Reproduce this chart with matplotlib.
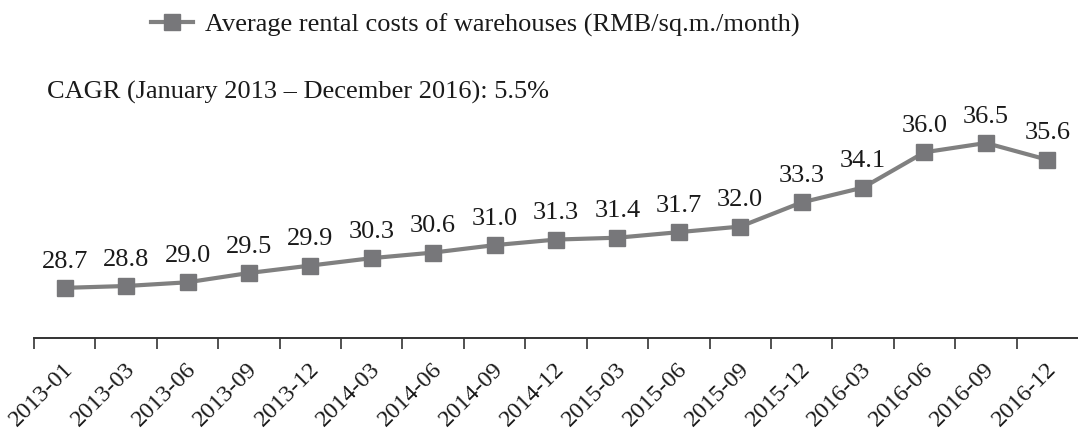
import matplotlib.pyplot as plt
import matplotlib.transforms as mtransforms
from matplotlib.lines import Line2D

plt.rcParams["font.family"] = ["Liberation Serif", "DejaVu Serif"]

months = ["2013-01", "2013-03", "2013-06", "2013-09", "2013-12", "2014-03",
          "2014-06", "2014-09", "2014-12", "2015-03", "2015-06", "2015-09",
          "2015-12", "2016-03", "2016-06", "2016-09", "2016-12"]
rent = [28.7, 28.8, 29.0, 29.5, 29.9, 30.3, 30.6, 31.0, 31.3, 31.4, 31.7,
        32.0, 33.3, 34.1, 36.0, 36.5, 35.6]

legend_label = "Average rental costs of warehouses (RMB/sq.m./month)"
note = "CAGR (January 2013 \u2013 December 2016): 5.5%"

color = "#808080"
mcolor = "#77777a"
txt = "#1a1a1a"

fig = plt.figure(figsize=(10.78, 4.40), dpi=100)
# axes spans x 34..1078 px, bottom axis at y=338 px
ax = fig.add_axes([34 / 1078, (440 - 338) / 440, 1044 / 1078, 338 / 440])

x = list(range(len(months)))
ax.plot(x, rent, color=color, lw=3, marker="s", markersize=11,
        markerfacecolor=mcolor, markeredgecolor=mcolor)

for xi, v in zip(x, rent):
    ax.annotate(f"{v:.1f}", (xi, v), xytext=(0, 11), textcoords="offset points",
                ha="center", va="bottom", fontsize=19, color=txt)

ax.set_xlim(-0.5, len(months) - 0.5)
ax.set_ylim(26.0, 44.2)

ax.set_xticks([i - 0.5 for i in x])
ax.set_xticklabels([])
ax.set_xticks(x, minor=True)
ax.set_xticklabels(months, minor=True, rotation=45, ha="right",
                   rotation_mode="anchor", fontsize=17.5, color=txt)
ax.tick_params(axis="x", which="major", length=8, width=1.2, color="#333333",
               direction="out")
ax.tick_params(axis="x", which="minor", length=0, pad=15)

# small nudge of the rotated labels
shift = mtransforms.ScaledTranslation(-2 / 100, 0, fig.dpi_scale_trans)
for lab in ax.get_xticklabels(minor=True):
    lab.set_transform(lab.get_transform() + shift)

ax.set_yticks([])
for s in ["top", "right", "left"]:
    ax.spines[s].set_visible(False)
ax.spines["bottom"].set_color("#333333")
ax.spines["bottom"].set_linewidth(1.4)

handle = Line2D([], [], color=color, lw=3, marker="s", markersize=11,
                markerfacecolor=mcolor, markeredgecolor=mcolor)
fig.legend([handle], [legend_label], loc="center left",
           bbox_to_anchor=(138 / 1078, 1 - 25 / 440), frameon=False,
           fontsize=19, handlelength=1.6, handletextpad=0.45,
           borderpad=0, labelcolor=txt)

fig.text(47 / 1078, 1 - 92 / 440, note, ha="left", va="center",
         fontsize=19, color=txt)

fig.savefig("out.png", dpi=100)
